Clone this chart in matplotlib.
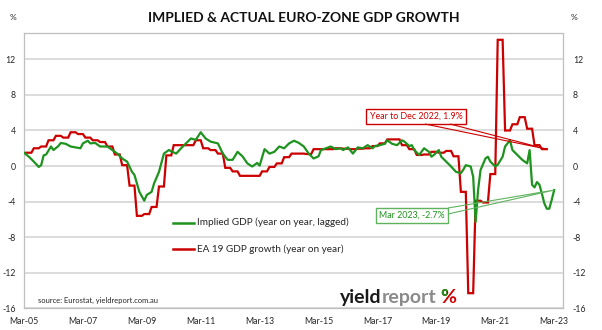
import numpy as np
import matplotlib
matplotlib.use("Agg")
import matplotlib.pyplot as plt
from matplotlib.patches import Rectangle, Polygon
from matplotlib.transforms import IdentityTransform

plt.rcParams['font.family'] = ['Lato', 'DejaVu Sans']

# ---------------- data ----------------
# months counted from Mar-2005 (0) to Mar-2023 (216)
tick_months = [0, 24, 48, 72, 96, 120, 144, 168, 192, 216]
tick_labels = ["Mar-05", "Mar-07", "Mar-09", "Mar-11", "Mar-13",
               "Mar-15", "Mar-17", "Mar-19", "Mar-21", "Mar-23"]

# EA 19 GDP growth, year on year, quarterly Q1-2005 .. Q4-2022 (%)
ea19_quarterly = [
    1.5, 1.5, 2.0, 2.2, 2.9, 3.4, 3.2, 3.8,
    3.6, 3.2, 2.9, 2.7, 2.2, 1.3, 0.1, -2.2,
    -5.6, -5.4, -4.6, -2.3, 1.2, 2.35, 2.35, 2.35,
    2.9, 2.0, 1.8, 1.4, -0.2, -0.6, -1.1, -1.1,
    -1.1, -0.6, -0.1, 0.3, 1.0, 1.4, 1.4, 1.35,
    1.9, 1.9, 1.9, 2.0, 1.95, 1.9, 1.95, 2.0,
    2.25, 2.55, 3.0, 3.0, 2.35, 1.9, 1.25, 1.3,
    1.6, 1.5, 1.7, 1.1, -2.9, -14.3, -3.9, -4.1,
    -0.9, 14.2, 4.0, 4.7, 5.5, 4.2, 2.35, 1.9,
]

# Implied GDP growth (year on year, lagged), monthly readings (%)
implied_month = [
    0, 2, 4, 6, 7, 8, 9, 11, 12, 14, 15, 17, 19, 21, 23, 24, 26, 27, 29, 31,
    34, 36, 38, 40, 42, 44, 45, 47, 49, 50, 52, 53, 55, 57, 58, 59, 62, 64,
    66, 68, 70, 72, 74, 76, 79, 81, 83, 85, 87, 89, 91, 93, 95, 96, 98, 100,
    102, 104, 106, 108, 110, 112, 114, 116, 118, 120, 121, 123, 125, 127,
    129, 130, 132, 134, 136, 138, 140, 142, 143, 145, 147, 148, 150, 152,
    154, 155, 157, 158, 159, 161, 163, 165, 166, 167, 169, 170, 172, 174,
    176, 178, 179, 180, 182, 183, 184, 185, 186, 188, 189, 190, 192, 193,
    195, 196, 198, 199, 201, 203, 205, 206, 207, 208, 209, 210, 211, 212,
    213, 214, 215, 216,
]
implied_value = [
    1.5, 1.05, 0.5, -0.1, 0.1, 1.2, 1.3, 2.2, 1.8, 2.25, 2.6, 2.5, 2.2, 2.1,
    2.0, 2.55, 2.85, 2.55, 2.6, 2.2,
    2.2, 1.8, 1.4, 0.85, 0.5, -0.65, -1.0, -2.9, -3.9, -3.25, -2.9, -1.95,
    -0.65, 1.4, 1.6, 1.8, 1.4, 2.0,
    2.55, 3.1, 2.95, 3.8, 3.1, 2.75, 2.55, 1.4, 0.7, 0.7, 1.6, 1.1, 0.3,
    -0.05, 0.35, 0.05, 1.9, 1.4,
    1.6, 2.2, 2.0, 2.55, 2.85, 2.6, 2.2, 1.4, 0.85, 1.1, 1.8, 2.0, 2.2, 1.9,
    2.0, 1.8, 2.1, 1.4, 2.1, 2.0, 2.35, 2.0, 2.25, 2.35, 2.5, 2.9, 2.5, 2.35,
    2.9, 2.75, 2.25, 2.35, 1.8, 1.25, 2.0, 1.6, 1.05, 1.25, 1.8, 1.05, 0.5,
    -0.05,
    -0.65, -0.8, -0.4, 0.1, -0.05, -1.2, -6.3, -2.7, -0.45, 0.85, 1.05, 0.5,
    -0.05, 0.15,
    1.05, 2.2, 2.9, 1.8, 1.25, 0.7, 0.3, 1.8, -2.1, -2.4, -1.8, -2.1, -3.1,
    -4.2,
    -4.8, -4.8, -3.8, -2.7,
]

y_ticks = [-16, -12, -8, -4, 0, 4, 8, 12]

# quarterly figures sit on the three months of their quarter (Jan..Mar 2005 = -2..0)
ea19_month = np.arange(-2, -2 + 3 * len(ea19_quarterly))
ea19_monthly = np.repeat(ea19_quarterly, 3)

# ---------------- figure ----------------
W, H = 602, 330
fig = plt.figure(figsize=(W / 100, H / 100), dpi=100)
fig.patch.set_facecolor("white")


def fx(x):
    return x / W


def fy(y):
    return 1 - y / H


ax_l, ax_r, ax_t, ax_b = 24, 563, 32.7, 308.3
ax = fig.add_axes([fx(ax_l), fy(ax_b), (ax_r - ax_l) / W, (ax_b - ax_t) / H])

GREEN = "#1f931f"
RED = "#cc0000"
GRID = "#d9d9d9"
TXT = "#262626"

ax.plot(implied_month, implied_value, color=GREEN, lw=1.6, zorder=3,
        solid_joinstyle="round")
ax.plot(ea19_month, ea19_monthly, color=RED, lw=1.6, zorder=2,
        solid_joinstyle="miter")

ax.set_xlim(0, 219.6)
ax.set_ylim(-16, 15)
ax.set_yticks(y_ticks)
ax.set_yticklabels([str(v) for v in y_ticks])
ax.set_xticks(tick_months)
ax.set_xticklabels(tick_labels)
ax.grid(axis="y", color=GRID, lw=1.3)
ax.set_axisbelow(True)
for s in ax.spines.values():
    s.set_color("#bfbfbf")
    s.set_linewidth(0.9)
ax.tick_params(axis="both", length=0, labelsize=6.3, colors=TXT)
ax.tick_params(axis="y", pad=6.0)
ax.tick_params(axis="x", pad=6.5)

axr = ax.twinx()
axr.set_ylim(ax.get_ylim())
axr.set_yticks(y_ticks)
axr.set_yticklabels([str(v) for v in y_ticks])
axr.tick_params(axis="y", length=0, labelsize=6.3, colors=TXT, pad=7.0)
for s in axr.spines.values():
    s.set_visible(False)

# title and unit labels
fig.text(fx(304), fy(18), "IMPLIED & ACTUAL EURO-ZONE GDP GROWTH",
         ha="center", va="center", fontsize=10, fontweight="bold", color="#111111")
fig.text(fx(12.5), fy(17), "%", ha="center", va="center", fontsize=6, color=TXT)
fig.text(fx(574), fy(17), "%", ha="center", va="center", fontsize=6, color=TXT)

# legend
for y, col, lab in [(222.7, GREEN, "Implied GDP (year on year, lagged)"),
                    (249.3, RED, "EA 19 GDP growth (year on year)")]:
    fig.add_artist(plt.Line2D([fx(173), fx(194)], [fy(y), fy(y)], color=col, lw=1.8))
    fig.text(fx(197), fy(y), lab, ha="left", va="center", fontsize=7.2, color=TXT)

# source note
fig.text(fx(38), fy(300), "source: Eurostat, yieldreport.com.au", ha="left",
         va="center", fontsize=5.4, color=TXT)

# callouts
tr = ax.transData


def callout(box, text, color, edge, base, tip, fs=6.4):
    x0, y0, x1, y1 = box
    rect = Rectangle((x0, H - y1), x1 - x0, y1 - y0, transform=IdentityTransform(),
                     facecolor="white", edgecolor=edge, lw=1.0, zorder=5)
    fig.add_artist(rect)
    tx, ty = tr.transform(tip)
    wedge = Polygon([(base[0][0], H - base[0][1]), (tx, ty),
                     (base[1][0], H - base[1][1])], closed=False,
                    transform=IdentityTransform(), fill=False, edgecolor=edge,
                    lw=0.8, zorder=5)
    fig.add_artist(wedge)
    fig.text(fx((x0 + x1) / 2), fy((y0 + y1) / 2), text, ha="center",
             va="center", fontsize=fs, color=color, zorder=6)


callout((366, 109, 466, 124), "Year to Dec 2022, 1.9%", RED, RED,
        [(425, 124), (450, 124)], (ea19_month[-1], ea19_quarterly[-1]))
callout((376, 208, 448, 223), "Mar 2023, -2.7%", GREEN, "#5fb35f",
        [(448, 208), (448, 214)], (implied_month[-1], implied_value[-1]))

# brand mark
fig.canvas.draw()
rend = fig.canvas.get_renderer()
x = 340
for part, col in [("yield", "#1a1a1a"), ("report", "#8a8a8a")]:
    t = fig.text(fx(x), fy(303), part, ha="left", va="baseline", fontsize=14,
                 fontweight="bold", color=col)
    x += t.get_window_extent(rend).width
x += 4
pr = fig.text(fx(x), fy(303), "%", ha="left", va="baseline", fontsize=14,
              fontweight="bold", color=RED)
pg = fig.text(fx(x), fy(303), "%", ha="left", va="baseline", fontsize=14,
              fontweight="bold", color=GREEN)
bb = pr.get_window_extent(rend)
clip = Rectangle((bb.x0 - 2, bb.y0 + bb.height * 0.5), bb.width * 0.55,
                 bb.height, transform=IdentityTransform())
pg.set_clip_path(clip)

fig.savefig("out.png", dpi=100, facecolor="white")
